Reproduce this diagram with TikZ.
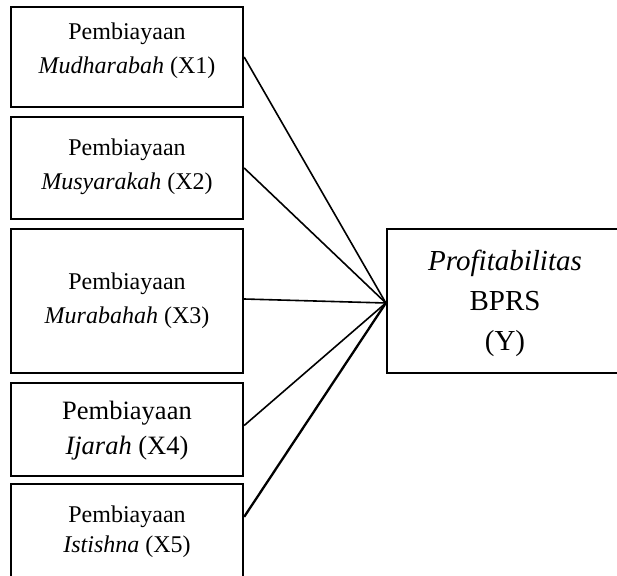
\documentclass[tikz,border=0pt]{standalone}
\usepackage{fontspec}
\setmainfont{Liberation Serif}
\usetikzlibrary{calc}
\tikzset{
  varbox/.style={draw=black, line width=2.3pt, minimum width=232pt, inner sep=0pt, anchor=center},
  ybox/.style={draw=black, line width=2.3pt, minimum width=236pt, minimum height=144pt, inner sep=0pt},
  lbl/.style={align=center, inner sep=0pt, text=black},
  link/.style={draw=black, line width=1.6pt},
}
\begin{document}
\begin{tikzpicture}[x=1pt,y=-1pt]
\useasboundingbox (0,0) rectangle (617,575);
\clip (0,0) rectangle (617,575);
\fill[white] (0,0) rectangle (617,575);
% boxes
\node[varbox, minimum height=100pt] (X1) at (127,57) {};
\node[varbox, minimum height=102pt] (X2) at (127,168) {};
\node[varbox, minimum height=144pt] (X3) at (127,301) {};
\node[varbox, minimum height=93pt]  (X4) at (127,429.5) {};
\node[varbox, minimum height=96pt]  (X5) at (127,532) {};
\node[ybox] (Y) at (505,301) {};
% texts
\node[lbl, font=\fontsize{24}{34}\selectfont] (T1) at (127,51) {Pembiayaan\\\textit{Mudharabah} (X1)};
\node[lbl, font=\fontsize{24}{34}\selectfont] (T2) at (127,167) {Pembiayaan\\\textit{Musyarakah} (X2)};
\node[lbl, font=\fontsize{24}{34}\selectfont] (T3) at (127,301) {Pembiayaan\\\textit{Murabahah} (X3)};
\node[lbl, font=\fontsize{26.5}{35}\selectfont] (T4) at (127,430.5) {Pembiayaan\\\textit{Ijarah} (X4)};
\node[lbl, font=\fontsize{24}{30}\selectfont] (T5) at (127,531.5) {Pembiayaan\\\textit{Istishna} (X5)};
\node[lbl, font=\fontsize{29}{40}\selectfont] (TY) at (505,303) {\textit{Profitabilitas}\\BPRS\\(Y)};
% connectors
\coordinate (P) at ($(Y.west)+(0,2)$);
\draw[link] (X1.east) -- (P);
\draw[link] (X2.east) -- (P);
\draw[link] ($(X3.east)+(0,-2)$) -- (P);
\draw[link] ($(X4.east)+(0,-4)$) -- (P);
\draw[link, line width=2.3pt] ($(X5.north east)+(0,34)$) -- (P);
\end{tikzpicture}
\end{document}
